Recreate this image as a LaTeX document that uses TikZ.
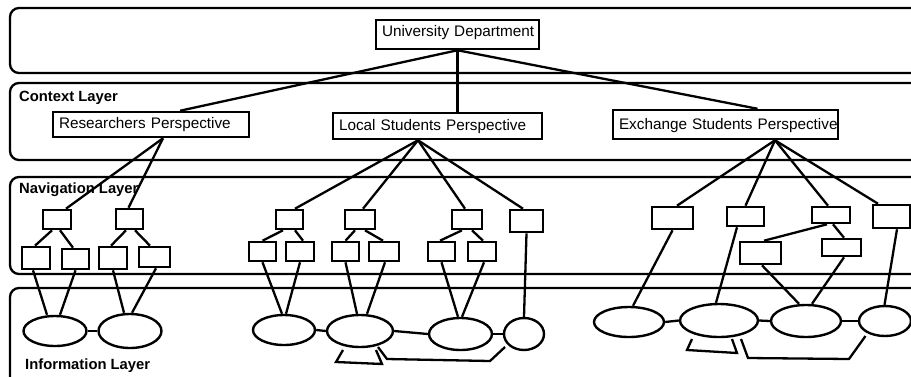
\documentclass[tikz,border=0pt]{standalone}
\usepackage{fontspec}
\setmainfont{Liberation Sans}
\usetikzlibrary{shapes.geometric,calc}

% connector from the bottom of one node to the top of another, with horizontal offsets
\newcommand\lnk[4]{\draw[link] ([xshift=#2pt]#1.south) -- ([xshift=#4pt]#3.north);}

\begin{document}
\begin{tikzpicture}[x=1pt,y=-1pt,
  layer/.style={draw, line width=2.3pt, rounded corners=9pt},
  layername/.style={font=\fontsize{14.8}{17}\selectfont\bfseries, anchor=base west, inner sep=0pt},
  persp/.style={draw, line width=2.5pt, inner xsep=6pt, inner ysep=0pt, align=left,
                font=\fontsize{15.3}{18}\selectfont},
  nav/.style={draw, line width=2.6pt, inner sep=0pt},
  info/.style={draw, ellipse, line width=2.4pt, inner sep=0pt},
  link/.style={line width=2.3pt},
]
\useasboundingbox (0,0) rectangle (911,376);
\fill[white] (0,0) rectangle (911,376);
\clip (0,0) rectangle (911,376);

% layer frames (running off the right edge)
\draw[layer] (10,8)   rectangle (940,73);
\draw[layer] (10,83)  rectangle (940,160);
\draw[layer] (10,177) rectangle (940,274);
\draw[layer] (10,288) rectangle (940,420);

\node[layername] (ctxl) at (19,101) {Context Layer};
\node[layername] (navl) at (19,193) {Navigation Layer};
\node[layername] (infl) at (25,369) {Information Layer};

% root and perspectives
\node[persp, text width=151pt, text height=16pt, text depth=13pt] (ud) at (457.5,34.5) {\mbox{University Department}};
\node[persp, text width=184pt, text height=16pt, text depth=9pt]  (rp) at (151,124.5) {\mbox{Researchers Perspective}};
\node[persp, text width=197pt, text height=17pt, text depth=9pt]  (lp) at (437.5,126) {\mbox{Local Students Perspective}};
\node[persp, text width=213pt, text height=19pt, text depth=10pt] (ep) at (725.5,124.5) {\mbox{Exchange Students Perspective}};

% navigation nodes: researchers
\node[nav, minimum width=28pt, minimum height=19pt] (r1)  at (57,219.5) {};
\node[nav, minimum width=27pt, minimum height=20pt] (r2)  at (129.5,219) {};
\node[nav, minimum width=28pt, minimum height=22pt] (r1a) at (36,258) {};
\node[nav, minimum width=27pt, minimum height=20pt] (r1b) at (75.5,259) {};
\node[nav, minimum width=28pt, minimum height=22pt] (r2a) at (113,258) {};
\node[nav, minimum width=31pt, minimum height=20pt] (r2b) at (154.5,257) {};

% navigation nodes: local students
\node[nav, minimum width=27pt, minimum height=19pt] (l1)  at (289.5,219.5) {};
\node[nav, minimum width=30pt, minimum height=19pt] (l2)  at (360,219.5) {};
\node[nav, minimum width=30pt, minimum height=19pt] (l3)  at (467,219.5) {};
\node[nav, minimum width=33pt, minimum height=22pt] (l4)  at (526.5,221) {};
\node[nav, minimum width=27pt, minimum height=19pt] (l1a) at (262.5,251.5) {};
\node[nav, minimum width=28pt, minimum height=19pt] (l1b) at (300,251.5) {};
\node[nav, minimum width=27pt, minimum height=19pt] (l2a) at (345.5,251.5) {};
\node[nav, minimum width=30pt, minimum height=19pt] (l2b) at (384,251.5) {};
\node[nav, minimum width=27pt, minimum height=19pt] (l3a) at (441.5,251.5) {};
\node[nav, minimum width=28pt, minimum height=19pt] (l3b) at (482,251.5) {};

% navigation nodes: exchange students
\node[nav, minimum width=41pt, minimum height=22pt] (x1) at (672.5,218) {};
\node[nav, minimum width=37pt, minimum height=19pt] (x2) at (745.5,216.5) {};
\node[nav, minimum width=38pt, minimum height=16pt] (x3) at (831,215) {};
\node[nav, minimum width=37pt, minimum height=23pt] (x4) at (891.5,216.5) {};
\node[nav, minimum width=41pt, minimum height=22pt] (x5) at (760.5,253) {};
\node[nav, minimum width=39pt, minimum height=17pt] (x6) at (841.5,247.5) {};

% information nodes
\node[info, minimum width=63pt, minimum height=30pt] (e1) at (55,331) {};
\node[info, minimum width=63pt, minimum height=34pt] (e2) at (130,331) {};
\node[info, minimum width=62pt, minimum height=30pt] (f1) at (284,330) {};
\node[info, minimum width=66pt, minimum height=32pt] (f2) at (360,331) {};
\node[info, minimum width=63pt, minimum height=32pt] (f3) at (460.5,334) {};
\node[info, minimum width=40pt, minimum height=32pt] (f4) at (524,334) {};
\node[info, minimum width=70pt, minimum height=30pt] (g1) at (629,322) {};
\node[info, minimum width=78pt, minimum height=33pt] (g2) at (719,320.5) {};
\node[info, minimum width=70pt, minimum height=32pt] (g3) at (806,321) {};
\node[info, minimum width=52pt, minimum height=30pt] (g4) at (885,321) {};

% context links
\lnk{ud}{0}{rp}{29}
\lnk{ud}{0}{lp}{20}
\lnk{ud}{0}{ep}{32}

% perspective to navigation
\lnk{rp}{12}{r1}{9}
\lnk{rp}{12}{r2}{-1}
\lnk{lp}{-19.5}{l1}{5.5}
\lnk{lp}{-19.5}{l2}{3}
\lnk{lp}{-19.5}{l3}{-2}
\lnk{lp}{-19.5}{l4}{-3.5}
\lnk{ep}{49.5}{x1}{4.5}
\lnk{ep}{49.5}{x2}{0}
\lnk{ep}{49.5}{x3}{-3}
\lnk{ep}{49.5}{x4}{-13.5}

% navigation hierarchy
\lnk{r1}{-5}{r1a}{-1}
\lnk{r1}{3}{r1b}{-2.5}
\lnk{r2}{-3.5}{r2a}{-2}
\lnk{r2}{5.5}{r2b}{-4.5}
\lnk{l1}{-6.5}{l1a}{0}
\lnk{l1}{5.5}{l1b}{3}
\lnk{l2}{-5}{l2a}{0}
\lnk{l2}{5}{l2b}{-1}
\lnk{l3}{-5}{l3a}{-1.5}
\lnk{l3}{5}{l3b}{1}
\lnk{x3}{-4}{x5}{3.5}
\lnk{x3}{2}{x6}{2.5}

% navigation to information
\lnk{r1a}{-3}{e1}{-8}
\lnk{r1b}{0}{e1}{5}
\lnk{r2a}{0}{e2}{-6}
\lnk{r2b}{1.5}{e2}{2}
\lnk{l1a}{0}{f1}{-2}
\lnk{l1b}{0}{f1}{2}
\lnk{l2a}{0}{f2}{-3}
\lnk{l2b}{1}{f2}{7}
\lnk{l3a}{0}{f3}{-2.5}
\lnk{l3b}{2}{f3}{1.5}
\lnk{l4}{0}{f4}{0}
\lnk{x1}{0}{g1}{4}
\lnk{x2}{-8.5}{g2}{-3}
\lnk{x5}{1.5}{g3}{-7}
\lnk{x6}{2.5}{g3}{6}
\lnk{x4}{5.5}{g4}{-0.5}

% information links
\draw[link] (e1.east) -- (e2.west);
\draw[link] (f1.east) -- (f2.west);
\draw[link] (f2.east) -- (f3.west);
\draw[link] (f3.east) -- (f4.west);
\draw[link] (g1.east) -- (g2.west);
\draw[link] (g2.east) -- (g3.west);
\draw[link] (g3.east) -- (g4.west);

% self loops and long links below the information nodes
\draw[link] ($(f2)+(-17,19)$) -- ++(-7,12) -- ++(46,2) -- ($(f2)+(16,19)$);
\draw[link] ($(f2)+(18,16)$) -- ++(9,12) -- ++(103,2) -- ($(f4)+(-19,13)$);
\draw[link] ($(g2)+(-27,18.5)$) -- ++(-5,11) -- ++(50,3) -- ($(g2)+(13,18.5)$);
\draw[link] ($(g2)+(22,18.5)$) -- ++(7,19) -- ++(101,1) -- ($(g4)+(-19.5,15)$);
\end{tikzpicture}
\end{document}
